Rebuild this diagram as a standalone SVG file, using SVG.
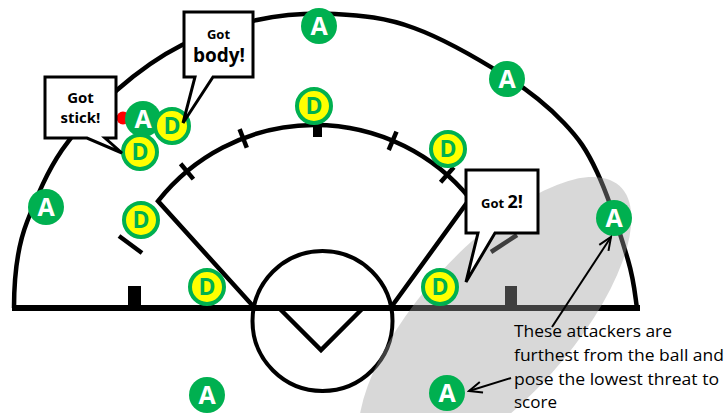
<svg xmlns="http://www.w3.org/2000/svg" width="727" height="413" viewBox="0 0 727 413">
  <defs>
    <style>
      .ln { fill: none; stroke: #000; stroke-width: 4.5; stroke-linejoin: miter; }
      .pa circle { fill: #00b050; }
      .pa text { fill: #fff; font-family: "Open Sans", "Liberation Sans", sans-serif; font-weight: bold; font-size: 25px; text-anchor: middle; }
      .pd circle { fill: #ffff00; stroke: #00b050; stroke-width: 4; }
      .pd text { fill: #00b050; font-family: "Open Sans", "Liberation Sans", sans-serif; font-weight: bold; font-size: 23px; text-anchor: middle; }
      .call path { fill: #fff; stroke: #000; stroke-width: 3; stroke-linejoin: miter; }
      .call text { fill: #000; font-family: "Open Sans", "Liberation Sans", sans-serif; font-weight: bold; text-anchor: middle; }
      .note { fill: #000; font-family: "Open Sans", "Liberation Sans", sans-serif; font-size: 17px; }
      .arrow { fill: none; stroke: #000; stroke-width: 2; }
    </style>
    <marker id="open-head" markerUnits="userSpaceOnUse" markerWidth="16" markerHeight="14" refX="14" refY="7" orient="auto">
      <path d="M1,1.5 L14,7 L1,12.5" fill="none" stroke="#000" stroke-width="2"/>
    </marker>
  </defs>

  <!-- field markings -->
  <g id="field">
    <path class="ln" stroke-width="5" d="M14,308 C14,270 18,245 27,222 C37.8,194.4 47,172 62,150 C77,128 97,107.5 117,90 C137,72.5 158.7,56.7 182,45 C205.3,33.3 231.5,25.2 257,20 C282.5,14.8 308.8,12.7 335,14 C361.2,15.3 385.3,17.5 414,28 C442.7,38.5 482,61.2 507,77 C532,92.8 549,107.2 564,123 C579,138.8 586.3,149.2 597,172 C607.7,194.8 621.3,237.3 628,260 C634.7,282.7 635.5,300 637,308"/>
    <line x1="12" y1="308" x2="640" y2="308" stroke="#000" stroke-width="6"/>
    <rect x="128" y="286" width="13" height="20" fill="#000"/>
    <rect x="505" y="286" width="12" height="20" fill="#000"/>
    <!-- fan -->
    <path class="ln" d="M253,306 L158,201.1 A200,200 0 0 1 470,198.6 L392,306"/>
    <g class="ln">
      <line x1="193.4" y1="179.1" x2="180.6" y2="163.7"/>
      <line x1="246.8" y1="147.7" x2="239.6" y2="129.1"/>
      <line x1="388.7" y1="150.0" x2="396.5" y2="131.6"/>
      <line x1="440.6" y1="182.3" x2="453.8" y2="167.3"/>
      <line x1="119" y1="236" x2="142" y2="253"/>
      <line x1="491" y1="252" x2="517" y2="235"/>
    </g>
    <rect x="313" y="126" width="9" height="11" fill="#000"/>
    <!-- crease -->
    <circle cx="322.5" cy="321" r="70" fill="none" stroke="#000" stroke-width="4"/>
    <path class="ln" stroke-width="4" d="M279,308 L321,350 L363,308"/>
  </g>

  <!-- shaded zone -->
  <ellipse id="zone" cx="495" cy="324" rx="186" ry="75" transform="rotate(-48 495 324)" fill="#9e9e9e" fill-opacity="0.4"/>

  <circle id="ball" cx="123" cy="118" r="6.5" fill="#ff0000"/>

  <!-- attackers -->
  <g id="a1" class="pa"><circle cx="319" cy="26" r="18"/><text x="319" y="35">A</text></g>
  <g id="a2" class="pa"><circle cx="507" cy="79" r="18"/><text x="507" y="88">A</text></g>
  <g id="a3" class="pa"><circle cx="46" cy="207" r="18"/><text x="46" y="216">A</text></g>
  <g id="a4" class="pa"><circle cx="614" cy="218" r="18"/><text x="614" y="227">A</text></g>
  <g id="a5" class="pa"><circle cx="143" cy="119" r="18"/><text x="143" y="128">A</text></g>
  <g id="a6" class="pa"><circle cx="207" cy="395" r="18"/><text x="207" y="404">A</text></g>
  <g id="a7" class="pa"><circle cx="447" cy="393" r="18"/><text x="447" y="402">A</text></g>

  <!-- defenders -->
  <g id="d2" class="pd"><circle cx="140" cy="152" r="17"/><text x="140" y="160">D</text></g>
  <g id="d1" class="pd"><circle cx="172" cy="126" r="17"/><text x="172" y="134">D</text></g>
  <g id="d3" class="pd"><circle cx="314" cy="106" r="17"/><text x="314" y="114">D</text></g>
  <g id="d4" class="pd"><circle cx="448" cy="149" r="17"/><text x="448" y="157">D</text></g>
  <g id="d5" class="pd"><circle cx="141" cy="220" r="17"/><text x="141" y="228">D</text></g>
  <g id="d6" class="pd"><circle cx="207" cy="287" r="17"/><text x="207" y="295">D</text></g>
  <g id="d7" class="pd"><circle cx="440" cy="287" r="17"/><text x="440" y="295">D</text></g>

  <!-- speech callouts -->
  <g id="call-body" class="call">
    <path d="M184,12 H253 V77 H213 L183,123 L195,77 H184 Z"/>
    <text x="218.5" y="39" font-size="13">Got</text>
    <text x="219" y="62" font-size="19">body!</text>
  </g>
  <g id="call-stick" class="call">
    <path d="M45,77 H116 V138 H105 L122,153 L87,138 H45 Z"/>
    <text x="80.5" y="103" font-size="15">Got</text>
    <text x="80.5" y="123" font-size="15">stick!</text>
  </g>
  <g id="call-two" class="call">
    <path d="M466,170 H538 V233 H495 L466,282 L478,233 H466 Z"/>
    <text x="502" y="208"><tspan font-size="13">Got </tspan><tspan font-size="18">2!</tspan></text>
  </g>

  <!-- note -->
  <g id="note" class="note">
    <text x="514" y="337" textLength="158" lengthAdjust="spacingAndGlyphs">These attackers are</text>
    <text x="514" y="361" textLength="210" lengthAdjust="spacingAndGlyphs">furthest from the ball and</text>
    <text x="514" y="385" textLength="205" lengthAdjust="spacingAndGlyphs">pose the lowest threat to</text>
    <text x="514" y="408" textLength="43" lengthAdjust="spacingAndGlyphs">score</text>
  </g>

  <!-- connectors -->
  <g id="connectors" class="arrow">
    <line x1="552" y1="327" x2="611" y2="237" marker-end="url(#open-head)"/>
    <line x1="511" y1="378" x2="469" y2="391" marker-end="url(#open-head)"/>
  </g>
</svg>
